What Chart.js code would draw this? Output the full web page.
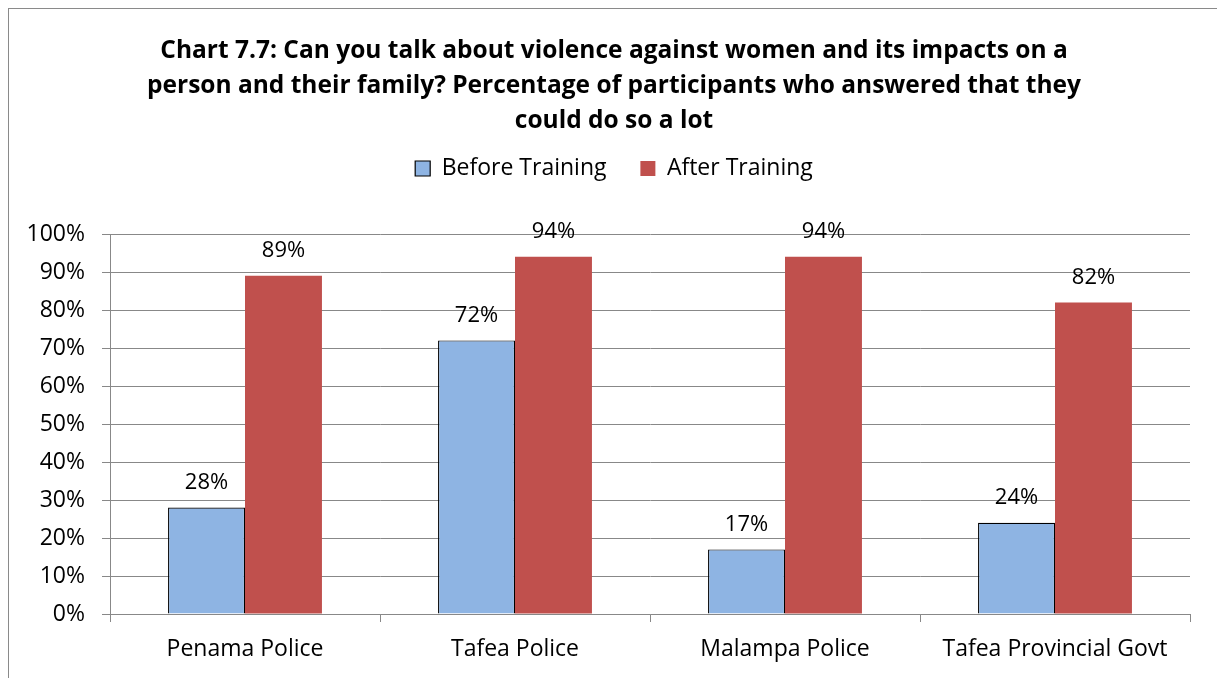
<!DOCTYPE html>
<html>
<head>
<meta charset="utf-8">
<script src="https://cdn.jsdelivr.net/npm/chart.js@4"></script>
<style>
  html, body { margin: 0; padding: 0; background: #fff; overflow: hidden; }
  #frame {
    position: absolute; left: 8px; top: 8px; width: 1240px; height: 700px;
    border: 1.5px solid #8a8a8a; box-sizing: border-box;
  }
  #wrap { position: absolute; left: 0; top: 0; width: 1217px; height: 678px; }
</style>
</head>
<body>
<div id="frame"></div>
<div id="wrap"><canvas id="chart"></canvas></div>
<script>
(function () {
  'use strict';

  const TITLE = [
    'Chart 7.7: Can you talk about violence against women and its impacts on a',
    'person and their family? Percentage of participants who answered that they',
    'could do so a lot',
  ];
  const CATEGORIES = ['Penama Police', 'Tafea Police', 'Malampa Police', 'Tafea Provincial Govt'];
  const BEFORE = [28, 72, 17, 24];
  const AFTER = [89, 94, 94, 82];
  const Y_TICKS = [0, 10, 20, 30, 40, 50, 60, 70, 80, 90, 100];

  const FONT = '"Open Sans", Lato, sans-serif';
  const GRID = '#888888';

  // value labels above each bar
  const barLabels = {
    id: 'barLabels',
    afterDatasetsDraw(chart) {
      const ctx = chart.ctx;
      ctx.save();
      ctx.font = '22px ' + FONT;
      ctx.fillStyle = '#000';
      ctx.textAlign = 'center';
      ctx.textBaseline = 'middle';
      chart.data.datasets.forEach((ds, i) => {
        chart.getDatasetMeta(i).data.forEach((bar, j) => {
          ctx.fillText(ds.data[j] + '%', bar.x, bar.y - 25);
        });
      });
      ctx.restore();
    },
  };

  // extra room between the legend and the plot
  const legendGap = {
    id: 'legendGap',
    beforeLayout(chart) {
      const lg = chart.legend;
      if (!lg || lg._gapWrapped) return;
      const fit = lg.fit;
      lg.fit = function () {
        fit.call(this);
        this.height += 44;
      };
      lg._gapWrapped = true;
    },
    // title and legend sit a little right of the plot centre
    afterLayout(chart) {
      if (chart.titleBlock) chart.titleBlock.left += 38;
      if (chart.legend) chart.legend.left += 38;
    },
  };

  new Chart(document.getElementById('chart'), {
    type: 'bar',
    data: {
      labels: CATEGORIES,
      datasets: [{
        label: 'Before Training',
        data: BEFORE,
        backgroundColor: '#8EB4E3',
        borderColor: '#000000',
        borderWidth: 1.2,
      }, {
        label: 'After Training',
        data: AFTER,
        backgroundColor: '#C0504D',
        borderColor: '#C0504D',
        borderWidth: 0,
      }],
    },
    options: {
      responsive: true,
      maintainAspectRatio: false,
      animation: false,
      layout: { padding: { left: 0, right: 27, top: 0, bottom: 0 } },
      datasets: {
        bar: { categoryPercentage: 0.57, barPercentage: 1 },
      },
      plugins: {
        title: {
          display: true,
          text: TITLE,
          color: '#000',
          font: { family: FONT, size: 24.5, weight: 'bold', lineHeight: 35 / 24.5 },
          padding: { top: 34, bottom: 8 },
        },
        legend: {
          position: 'top',
          labels: {
            color: '#000',
            font: { family: FONT, size: 23 },
            boxWidth: 15,
            boxHeight: 15,
            padding: 10,
            // wider gap after the first entry, as in the original
            generateLabels: (chart) => {
              const items = Chart.defaults.plugins.legend.labels.generateLabels(chart);
              items[0].text += '    ';
              return items;
            },
          },
        },
        tooltip: { enabled: false },
      },
      scales: {
        x: {
          afterFit: (s) => { s.height = 64; },
          grid: {
            drawOnChartArea: false,
            drawTicks: true,
            tickLength: 8,
            color: GRID,
            lineWidth: 1,
          },
          border: { display: true, color: GRID, width: 1 },
          ticks: {
            color: '#000',
            font: { family: FONT, size: 23 },
            padding: 14,
          },
        },
        y: {
          min: 0,
          max: 100,
          afterFit: (s) => { s.width = 110; },
          afterBuildTicks: (s) => { s.ticks = Y_TICKS.map((v) => ({ value: v })); },
          grid: { color: GRID, lineWidth: 1, tickLength: 8 },
          border: { display: true, color: GRID, width: 1 },
          ticks: {
            color: '#000',
            font: { family: FONT, size: 23 },
            padding: 17,
            callback: (v) => v + '%',
          },
        },
      },
    },
    plugins: [barLabels, legendGap],
  });
}());
</script>
</body>
</html>
